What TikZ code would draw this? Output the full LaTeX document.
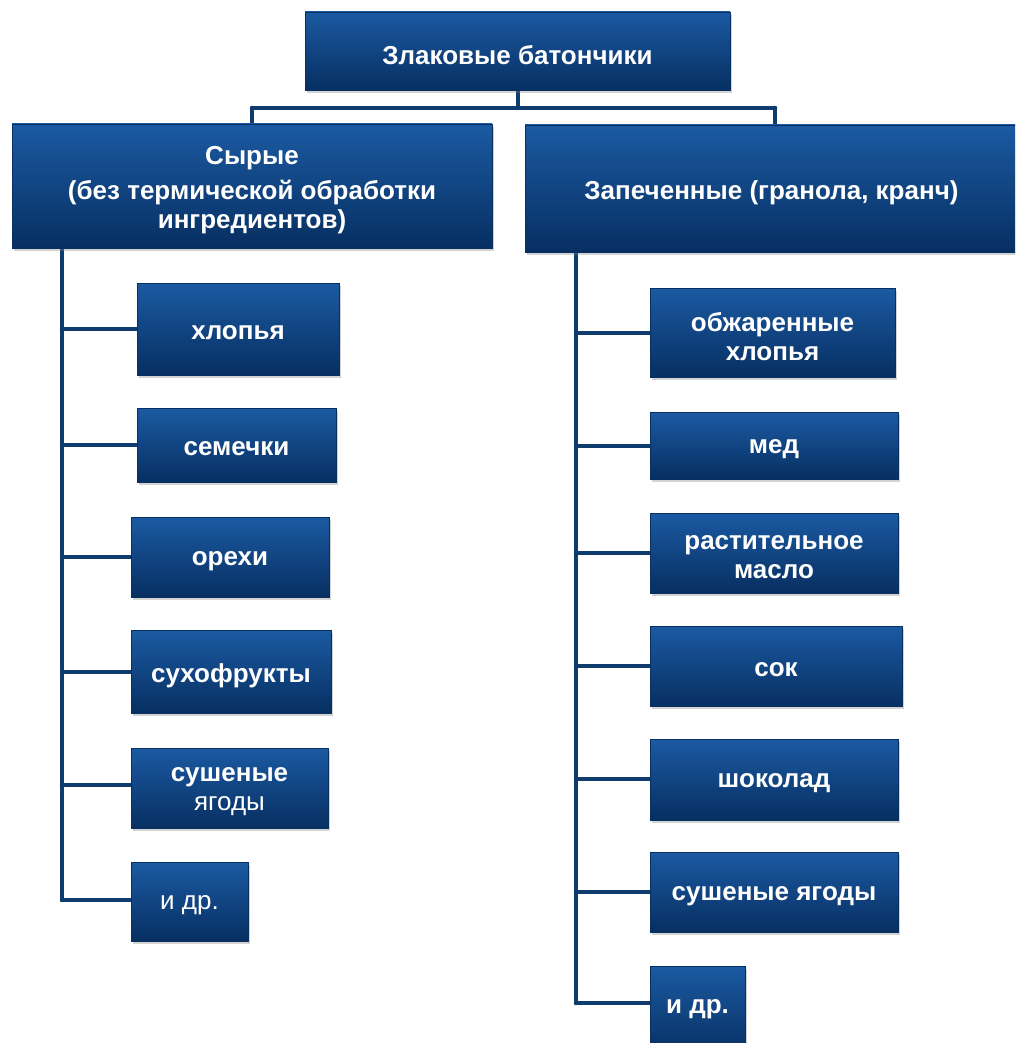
\documentclass[tikz,border=0pt]{standalone}
\usepackage{fontspec}
\setmainfont{Liberation Sans}
\usetikzlibrary{shadows}
\definecolor{boxtop}{HTML}{1B5AA2}
\definecolor{boxmid}{HTML}{0A478C}
\definecolor{boxbot}{HTML}{072F62}
\definecolor{linec}{HTML}{0F3C6E}
\tikzset{
  bx/.style={rectangle, top color=boxtop, middle color=boxmid, bottom color=boxbot, draw=boxbot, line width=0.6pt,
    inner sep=0pt, drop shadow={shadow xshift=2pt, shadow yshift=-3pt, opacity=0.35}},
  bxt/.style={text=white, font=\fontsize{26}{29}\selectfont\bfseries, align=center, inner sep=0pt},
  conn/.style={draw=linec, line width=4.5pt, line join=round, line cap=round}
}
\begin{document}
\begin{tikzpicture}[x=1pt,y=-1pt]
\useasboundingbox (0,0) rectangle (1015,1043);
\clip (0,0) rectangle (1015,1043);
\newcommand\bxat[6]{\node[bx, minimum width=#3-#1, minimum height=#4-#2] (#5) at ({(#1+#3)/2},{(#2+#4)/2}) {};
  \node[bxt] (#5t) at ([yshift=-4pt]#5.center) {#6};}
% connectors first
\coordinate (tb) at (518,90);
\coordinate (j) at (518,108);
\coordinate (jl) at (252,108);
\coordinate (jr) at (775,108);
\coordinate (tl) at (62,248);
\coordinate (tr) at (576,252);
\coordinate (el) at (62,900);
\coordinate (er) at (576,1003);
\draw[conn] (tb) -- (j);
\draw[conn] (jl) -- (jr);
\draw[conn] (jl) -- (252,124);
\draw[conn] (jr) -- (775,125);
\draw[conn] (tl) -- (el);
\draw[conn] (tr) -- (er);
\foreach \yy in {329,445,557,672,785} \draw[conn] (62,\yy) -- (137,\yy);
\draw[conn] (el) -- (135,900);
\foreach \yy in {333,446,553,666,779,892} \draw[conn] (576,\yy) -- (652,\yy);
\draw[conn] (er) -- (652,1003);
% boxes
\bxat{305}{12}{730}{90}{top}{Злаковые батончики}
\bxat{12}{124}{492}{248}{raw}{Сырые\\[6pt](без термической обработки\\ингредиентов)}
\bxat{525}{125}{1018}{252}{baked}{Запеченные (гранола, кранч)}
\bxat{137}{283}{339}{375}{l1}{хлопья}
\bxat{137}{408}{336}{482}{l2}{семечки}
\bxat{131}{517}{329}{597}{l3}{орехи}
\bxat{131}{630}{331}{713}{l4}{сухофрукты}
\bxat{131}{748}{328}{828}{l5}{сушеные\\\mdseries ягоды}
\bxat{131}{862}{248}{941}{l6}{\mdseries и др.}
\bxat{650}{288}{895}{377}{r1}{обжаренные\\хлопья}
\bxat{650}{412}{898}{479}{r2}{мед}
\bxat{650}{513}{898}{593}{r3}{растительное\\масло}
\bxat{650}{626}{902}{706}{r4}{сок}
\bxat{650}{739}{898}{820}{r5}{шоколад}
\bxat{650}{852}{898}{932}{r6}{сушеные ягоды}
\node[bx, minimum width=95, minimum height=90] (r7) at (697.5,1011) {};
\node[bxt] (r7t) at (697.5,1009) {и др.};
\end{tikzpicture}
\end{document}
